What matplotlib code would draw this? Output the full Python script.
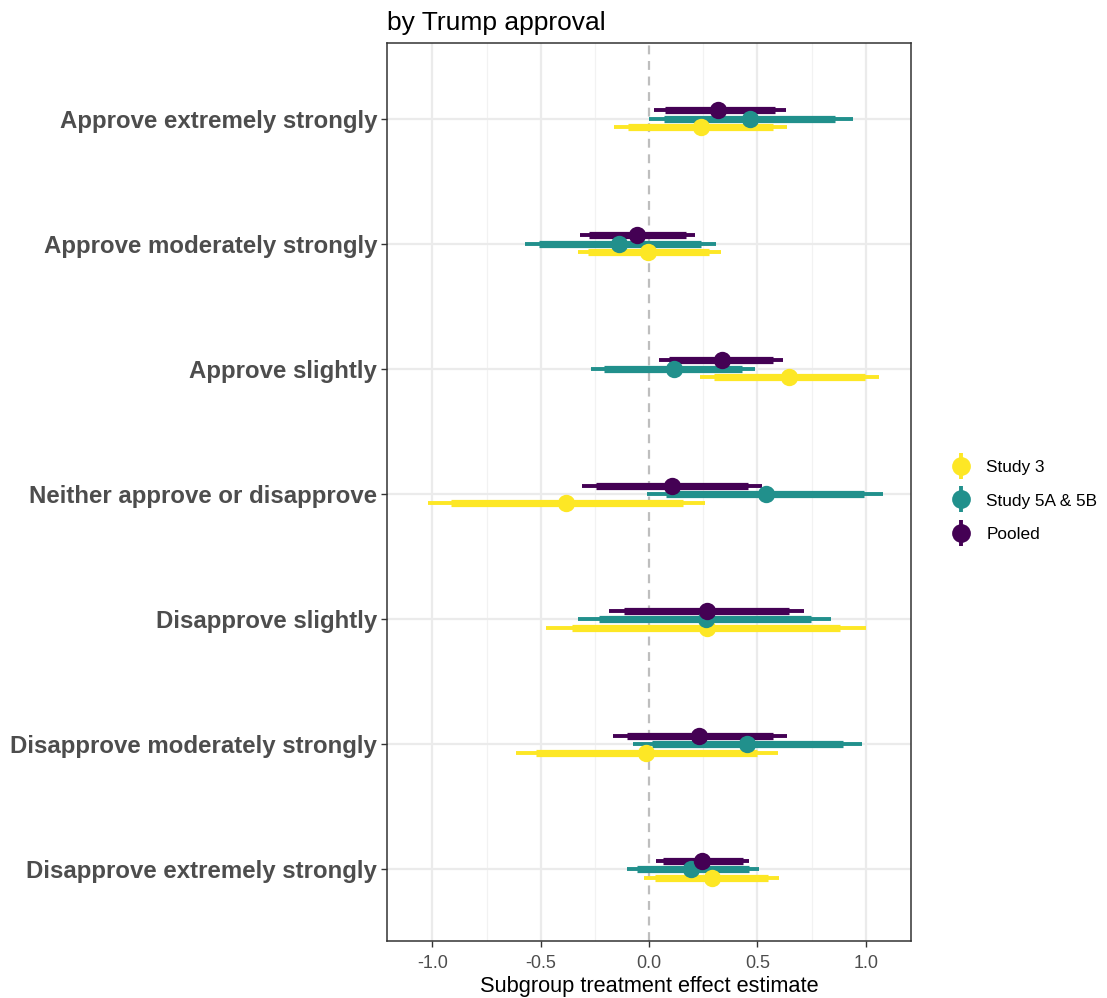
import matplotlib
matplotlib.use("Agg")
import matplotlib.pyplot as plt
import numpy as np
from matplotlib.lines import Line2D
from matplotlib.legend_handler import HandlerTuple

plt.rcParams['font.family'] = ['Liberation Sans', 'DejaVu Sans']

# Subgroups, top to bottom
groups = [
    "Approve extremely strongly",
    "Approve moderately strongly",
    "Approve slightly",
    "Neither approve or disapprove",
    "Disapprove slightly",
    "Disapprove moderately strongly",
    "Disapprove extremely strongly",
]

studies = ["Study 3", "Study 5A & 5B", "Pooled"]
colors = ["#FDE725", "#21908C", "#440154"]

# Point estimates per study (same order as groups)
est_s3 = [0.24, -0.005, 0.648, -0.382, 0.267, -0.014, 0.29]
est_s5 = [0.465, -0.138, 0.115, 0.538, 0.265, 0.45, 0.193]
est_pool = [0.32, -0.055, 0.335, 0.106, 0.267, 0.23, 0.244]

# Inner (thick) intervals
lo_in_s3 = [-0.097, -0.28, 0.30, -0.915, -0.354, -0.52, 0.028]
hi_in_s3 = [0.57, 0.276, 0.998, 0.156, 0.883, 0.497, 0.547]
lo_in_s5 = [0.069, -0.506, -0.207, 0.078, -0.23, 0.014, -0.055]
hi_in_s5 = [0.86, 0.24, 0.43, 0.993, 0.749, 0.897, 0.46]
lo_in_pool = [0.074, -0.276, 0.092, -0.244, -0.115, -0.101, 0.064]
hi_in_pool = [0.58, 0.17, 0.57, 0.455, 0.644, 0.57, 0.432]

# Outer (thin) intervals
lo_out_s3 = [-0.16, -0.33, 0.235, -1.02, -0.474, -0.616, -0.023]
hi_out_s3 = [0.635, 0.33, 1.062, 0.257, 1.0, 0.593, 0.598]
lo_out_s5 = [0.0, -0.575, -0.267, -0.01, -0.326, -0.074, -0.10]
hi_out_s5 = [0.94, 0.31, 0.49, 1.08, 0.841, 0.984, 0.506]
lo_out_pool = [0.023, -0.317, 0.046, -0.308, -0.184, -0.166, 0.032]
hi_out_pool = [0.63, 0.21, 0.616, 0.52, 0.717, 0.635, 0.46]

est = [est_s3, est_s5, est_pool]
lo_in = [lo_in_s3, lo_in_s5, lo_in_pool]
hi_in = [hi_in_s3, hi_in_s5, hi_in_pool]
lo_out = [lo_out_s3, lo_out_s5, lo_out_pool]
hi_out = [hi_out_s3, hi_out_s5, hi_out_pool]

dodge = [-0.068, 0.0, 0.068]
ypos = np.arange(len(groups), 0, -1)

fig = plt.figure(figsize=(11.07, 9.98), dpi=100)
ax = fig.add_axes([0.3496, 0.057, 0.4735, 0.900])

# grid (theme_bw style)
for v in [-0.75, -0.25, 0.25, 0.75]:
    ax.axvline(v, color="#F2F2F2", lw=0.9, zorder=0)
for v in [-1.0, -0.5, 0.5, 1.0]:
    ax.axvline(v, color="#EBEBEB", lw=1.6, zorder=0)
for y in ypos:
    ax.axhline(y, color="#EBEBEB", lw=1.6, zorder=0)
ax.axvline(0, color="#BEBEBE", lw=1.6, ls=(0, (4, 3)), zorder=0.5)

# thin outer intervals
for k in range(3):
    y = ypos + dodge[k]
    ax.hlines(y, lo_out[k], hi_out[k], color=colors[k], lw=2.8, zorder=2)
# thick inner intervals
for k in range(3):
    y = ypos + dodge[k]
    ax.hlines(y, lo_in[k], hi_in[k], color=colors[k], lw=5.2, zorder=3)
# points
for k in range(3):
    y = ypos + dodge[k]
    ax.plot(est[k], y, 'o', color=colors[k], ms=12.5, mec='none', zorder=4 + k)

ax.set_xlim(-1.21, 1.21)
ax.set_ylim(0.424, 7.608)
ax.set_xticks([-1.0, -0.5, 0.0, 0.5, 1.0])
ax.set_xticklabels(["-1.0", "-0.5", "0.0", "0.5", "1.0"])
ax.set_yticks(ypos)
ax.set_yticklabels(groups, fontsize=17.3, fontweight='bold', color="#4D4D4D")
ax.tick_params(axis='x', labelsize=13, labelcolor="#4D4D4D", color="#333333",
               length=4, width=1, pad=6)
ax.tick_params(axis='y', color="#333333", length=4, width=1, pad=3)
for s in ax.spines.values():
    s.set_color("#333333")
    s.set_linewidth(1.1)

ax.set_xlabel("Subgroup treatment effect estimate", fontsize=15.7, labelpad=3)
ax.set_title("by Trump approval", loc='left', fontsize=19, pad=9)

handles = []
for c in colors:
    bar = Line2D([], [], marker='|', ms=19, mew=2.8, color=c, ls='none')
    dot = Line2D([], [], marker='o', ms=13.5, mec='none', color=c, ls='none')
    handles.append((bar, dot))
fig.legend(handles, studies, loc='center left', bbox_to_anchor=(0.845, 0.498),
           handler_map={tuple: HandlerTuple(ndivide=1, pad=0)},
           frameon=False, fontsize=12.4, handlelength=1.2, handletextpad=0.85,
           labelspacing=1.05)

fig.savefig("out.png", dpi=100)
